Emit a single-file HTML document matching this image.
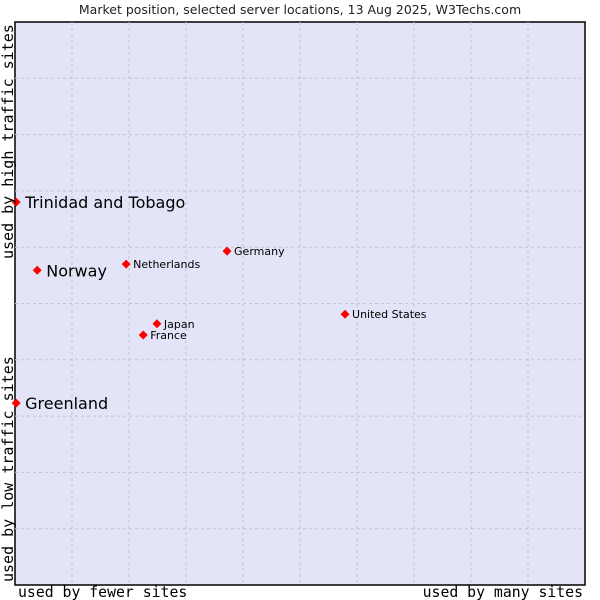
<!DOCTYPE html>
<html><head><meta charset="utf-8"><style>
body{margin:0;background:#fff;}
svg{display:block;font-family:"DejaVu Sans","Liberation Sans",sans-serif;}
</style></head><body>
<svg id="chart" width="600" height="600">
<text x="300" y="14" text-anchor="middle" font-size="12.5" fill="#222">Market position, selected server locations, 13 Aug 2025, W3Techs.com</text>
<rect x="15" y="22" width="570" height="563" fill="#e3e4f8" stroke="#000" stroke-width="1.5"/>
<g id="grid"></g>
<g id="points"></g>
<text x="18" y="597" font-family="DejaVu Sans Mono,Liberation Mono,monospace" font-size="14.8" fill="#000">used by fewer sites</text>
<text x="583" y="597" text-anchor="end" font-family="DejaVu Sans Mono,Liberation Mono,monospace" font-size="14.8" fill="#000">used by many sites</text>
<text transform="translate(13,582) rotate(-90)" font-family="DejaVu Sans Mono,Liberation Mono,monospace" font-size="15" fill="#000">used by low traffic sites</text>
<text transform="translate(13,259) rotate(-90)" font-family="DejaVu Sans Mono,Liberation Mono,monospace" font-size="15" fill="#000">used by high traffic sites</text>
</svg>
<script>
const names=["Trinidad and Tobago","Norway","Greenland","Netherlands","Germany","United States","Japan","France"];
const xVals=[0.2,3.9,0.2,19.5,37.2,57.9,24.9,22.5];
const yVals=[68.0,55.9,32.3,57.0,59.3,48.1,46.4,44.4];
const big=[true,true,true,false,false,false,false,false];
const NS="http://www.w3.org/2000/svg";
function sx(v){return 15+v*5.7;}
function sy(v){return 585-v*5.63;}
const grid=document.getElementById('grid');
for(let i=1;i<10;i++){
  const lv=document.createElementNS(NS,'line');
  lv.setAttribute('x1',sx(i*10));lv.setAttribute('x2',sx(i*10));lv.setAttribute('y1',22);lv.setAttribute('y2',585);
  lv.setAttribute('stroke','#c4c4c4');lv.setAttribute('stroke-dasharray','3,3');
  
  
  grid.appendChild(lv);
  const lh=document.createElementNS(NS,'line');
  lh.setAttribute('y1',sy(i*10));lh.setAttribute('y2',sy(i*10));lh.setAttribute('x1',15);lh.setAttribute('x2',585);
  lh.setAttribute('stroke','#c4c4c4');lh.setAttribute('stroke-dasharray','3,3');
  
  
  grid.appendChild(lh);
}
const pts=document.getElementById('points');
names.forEach((n,i)=>{
  const x=sx(xVals[i]),y=sy(yVals[i]);
  const d=document.createElementNS(NS,'path');
  d.setAttribute('d',`M${x},${y-4.5}L${x+4.5},${y}L${x},${y+4.5}L${x-4.5},${y}Z`);
  d.setAttribute('fill','#f00');
  
  
  pts.appendChild(d);
  const t=document.createElementNS(NS,'text');
  t.setAttribute('x',x+(big[i]?9:7));t.setAttribute('y',y+(big[i]?6:4));
  t.setAttribute('font-size',big[i]?16:11);t.setAttribute('fill','#000');
  t.textContent=n;
  
  
  pts.appendChild(t);
});
</script>
</body></html>
